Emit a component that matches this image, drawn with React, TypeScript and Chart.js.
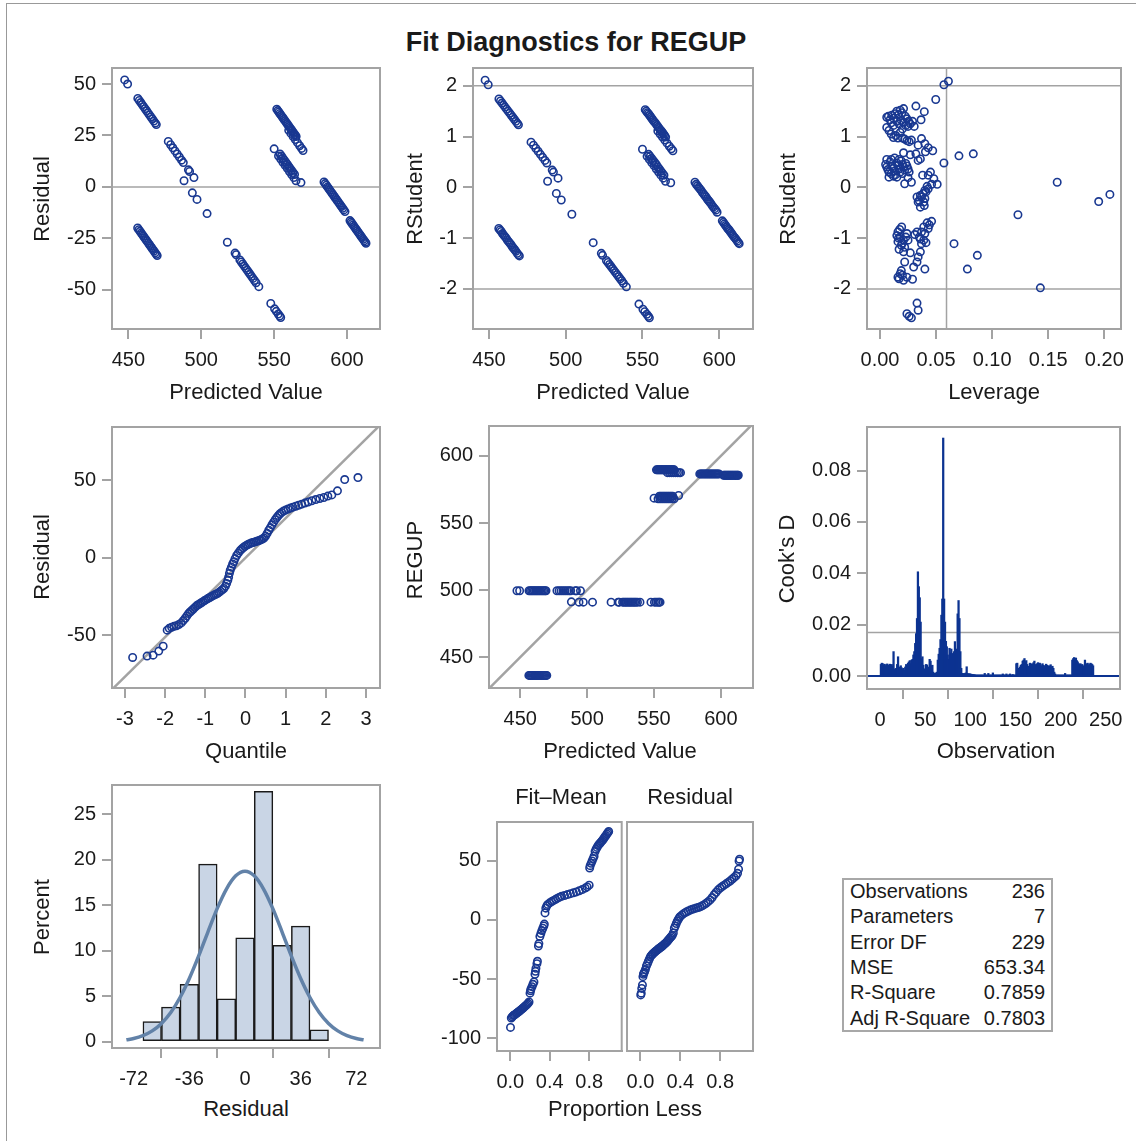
import React, { useEffect, useRef } from 'react';
import { Chart, registerables } from 'chart.js';
Chart.register(...registerables);

const FONT = '"Liberation Sans", Arial, Helvetica, sans-serif';
const MARK = '#193891';
const FRAME = '#a3a3a3';
const TXT = '#1a1a1a';

// ---- per-observation columns (panels: residual / RStudent / observed vs predicted)
const predicted = [
  447.5,449.5,456.5,457.5,458.5,459.5,460.5,461.5,462.5,463.5,464.5,465.5,466.5,467.5,468.5,469.2,477.4,479.0,480.5,482.0,483.5,485.0,486.5,487.7,491.2,492.0,495.0,
  488.2,493.9,497.1,504.0,517.9,523.2,524.0,526.5,527.5,528.5,529.5,530.5,531.5,532.5,533.5,534.5,535.5,536.5,537.6,539.5,547.7,550.3,551.5,552.8,553.8,554.5,
  456.4,457.2,458.0,458.8,459.6,460.4,461.2,462.0,462.8,463.6,464.4,465.2,466.0,466.8,467.6,468.4,469.2,469.8,
  551.8,552.5,553.2,553.9,554.6,555.3,556.0,556.7,557.4,558.1,558.8,559.5,560.2,560.9,561.6,562.3,563.0,563.7,564.4,565.1,
  560.0,561.5,563.0,564.5,566.0,567.5,568.8,569.8,
  550.0,554.0,555.0,556.0,557.0,558.0,559.0,560.0,561.0,562.0,563.0,564.0,
  553.0,554.5,556.0,557.5,559.0,560.5,562.0,563.5,565.0,568.4,
  584.2,585.0,585.8,586.6,587.4,588.2,589.0,589.8,590.6,591.4,592.2,593.0,593.8,594.6,595.4,596.2,597.0,597.8,598.6,
  602.0,602.7,603.4,604.1,604.8,605.5,606.2,606.9,607.6,608.3,609.0,609.7,610.4,611.1,611.8,612.5,613.0,
];
const residual = [
  52.0,50.0,43.0,42.0,41.0,40.0,39.0,38.0,37.0,36.0,35.0,34.0,33.0,32.0,31.0,30.3,22.1,20.5,19.0,17.5,16.0,14.5,13.0,11.8,8.3,7.5,4.5,
  3.0,-2.9,-6.1,-13.0,-26.9,-32.2,-33.0,-35.5,-36.5,-37.5,-38.5,-39.5,-40.5,-41.5,-42.5,-43.5,-44.5,-45.5,-46.6,-48.5,-56.7,-59.3,-60.5,-61.8,-62.8,-63.5,
  -20.0,-20.8,-21.6,-22.4,-23.2,-24.0,-24.8,-25.6,-26.4,-27.2,-28.0,-28.8,-29.6,-30.4,-31.2,-32.0,-32.8,-33.4,
  37.8,37.1,36.4,35.7,35.0,34.3,33.6,32.9,32.2,31.5,30.8,30.1,29.4,28.7,28.0,27.3,26.6,25.9,25.2,24.5,
  27.5,26.0,24.5,23.0,21.5,20.0,18.7,17.7,
  18.5,16.0,15.0,14.0,13.0,12.0,11.0,10.0,9.0,8.0,7.0,6.0,
  15.0,13.5,12.0,10.5,9.0,7.5,6.0,4.5,3.0,2.1,
  2.4,1.6,0.8,0.0,-0.8,-1.6,-2.4,-3.2,-4.0,-4.8,-5.6,-6.4,-7.2,-8.0,-8.8,-9.6,-10.4,-11.2,-12.0,
  -16.4,-17.1,-17.8,-18.5,-19.2,-19.9,-20.6,-21.3,-22.0,-22.7,-23.4,-24.1,-24.8,-25.5,-26.2,-26.9,-27.4,
];
const rstudent = [
  2.11,2.02,1.74,1.70,1.66,1.62,1.58,1.54,1.50,1.46,1.42,1.38,1.34,1.30,1.26,1.23,0.89,0.83,0.77,0.71,0.65,0.59,0.53,0.48,0.34,0.30,0.18,
  0.12,-0.12,-0.25,-0.53,-1.09,-1.30,-1.34,-1.44,-1.48,-1.52,-1.56,-1.60,-1.64,-1.68,-1.72,-1.76,-1.80,-1.84,-1.89,-1.96,-2.30,-2.40,-2.45,-2.50,-2.54,-2.57,
  -0.81,-0.84,-0.87,-0.91,-0.94,-0.97,-1.00,-1.04,-1.07,-1.10,-1.13,-1.17,-1.20,-1.23,-1.26,-1.30,-1.33,-1.35,
  1.53,1.50,1.47,1.45,1.42,1.39,1.36,1.33,1.30,1.28,1.25,1.22,1.19,1.16,1.13,1.11,1.08,1.05,1.02,0.99,
  1.11,1.05,0.99,0.93,0.87,0.81,0.76,0.72,
  0.75,0.65,0.61,0.57,0.53,0.49,0.45,0.40,0.36,0.32,0.28,0.24,
  0.61,0.55,0.49,0.43,0.36,0.30,0.24,0.18,0.12,0.09,
  0.10,0.06,0.03,0.00,-0.03,-0.06,-0.10,-0.13,-0.16,-0.19,-0.23,-0.26,-0.29,-0.32,-0.36,-0.39,-0.42,-0.45,-0.49,
  -0.66,-0.69,-0.72,-0.75,-0.78,-0.81,-0.83,-0.86,-0.89,-0.92,-0.95,-0.98,-1.00,-1.03,-1.06,-1.09,-1.11,
];
const regup = [
  499.5,499.5,499.5,499.5,499.5,499.5,499.5,499.5,499.5,499.5,499.5,499.5,499.5,499.5,499.5,499.5,499.5,499.5,499.5,499.5,499.5,499.5,499.5,499.5,499.5,499.5,499.5,
  491.2,491,491,491,491,491,491,491,491,491,491,491,491,491,491,491,491,491,491,491,491,491,491,491,491,491,
  436.4,436.4,436.4,436.4,436.4,436.4,436.4,436.4,436.4,436.4,436.4,436.4,436.4,436.4,436.4,436.4,436.4,436.4,
  589.6,589.6,589.6,589.6,589.6,589.6,589.6,589.6,589.6,589.6,589.6,589.6,589.6,589.6,589.6,589.6,589.6,589.6,589.6,589.6,
  587.5,587.5,587.5,587.5,587.5,587.5,587.5,587.5,
  568.5,570,570,570,570,570,570,570,570,570,570,570,
  568,568,568,568,568,568,568,568,568,570.5,
  586.6,586.6,586.6,586.6,586.6,586.6,586.6,586.6,586.6,586.6,586.6,586.6,586.6,586.6,586.6,586.6,586.6,586.6,586.6,
  585.6,585.6,585.6,585.6,585.6,585.6,585.6,585.6,585.6,585.6,585.6,585.6,585.6,585.6,585.6,585.6,585.6,
];

// ---- leverage vs RStudent
const leverageRstudent = [
  [0.057,2.02],[0.061,2.09],[0.0497,1.73],[0.032,1.60],[0.0395,1.49],[0.0366,1.33],
  [0.006,1.38],[0.0075,1.40],[0.009,1.33],[0.0105,1.42],[0.012,1.36],[0.0135,1.45],[0.015,1.50],[0.0165,1.43],[0.018,1.52],[0.0195,1.47],
  [0.021,1.55],[0.0225,1.40],[0.024,1.35],[0.0255,1.30],[0.015,1.30],[0.017,1.25],[0.019,1.32],[0.021,1.28],[0.023,1.22],[0.025,1.20],
  [0.027,1.25],[0.029,1.30],[0.006,1.18],[0.008,1.12],[0.010,1.05],[0.012,0.98],[0.014,1.02],[0.016,0.97],[0.018,1.08],[0.020,1.15],
  [0.022,0.95],[0.024,0.92],[0.026,0.90],[0.028,0.93],[0.012,1.22],[0.010,1.27],[0.020,0.97],[0.0305,1.20],
  [0.037,0.96],[0.040,0.86],[0.043,0.78],[0.047,0.72],[0.0405,0.70],[0.036,0.56],[0.034,0.53],[0.032,0.66],[0.027,0.64],[0.021,0.68],
  [0.034,0.83],[0.0704,0.62],[0.0832,0.66],[0.057,0.48],
  [0.005,0.45],[0.006,0.40],[0.007,0.35],[0.008,0.30],[0.009,0.50],[0.010,0.55],[0.011,0.42],[0.012,0.38],[0.013,0.32],[0.014,0.25],
  [0.015,0.48],[0.016,0.43],[0.017,0.36],[0.018,0.30],[0.019,0.52],[0.020,0.45],[0.021,0.40],[0.022,0.34],[0.023,0.47],[0.024,0.42],
  [0.012,0.22],[0.010,0.27],[0.008,0.20],[0.006,0.55],[0.013,0.58],[0.017,0.55],[0.025,0.36],[0.026,0.30],[0.015,0.20],[0.020,0.27],
  [0.022,0.07],[0.025,0.19],[0.028,0.10],
  [0.045,0.30],[0.043,0.24],[0.038,0.24],[0.048,0.17],[0.046,0.06],[0.051,0.06],[0.042,0.02],[0.040,-0.06],[0.0386,-0.12],[0.037,-0.19],
  [0.035,-0.26],[0.039,-0.29],[0.036,-0.39],[0.034,-0.29],[0.041,-0.09],[0.043,-0.03],[0.036,-0.16],[0.040,-0.22],[0.033,-0.19],[0.0395,-0.36],
  [0.0193,-0.78],[0.016,-0.88],[0.015,-0.95],[0.018,-0.98],[0.021,-1.04],[0.016,-1.07],[0.019,-1.14],[0.022,-1.18],[0.017,-1.22],[0.025,-1.04],
  [0.024,-0.91],[0.021,-1.27],[0.027,-1.29],[0.0175,-0.83],[0.0165,-1.00],[0.020,-1.10],[0.023,-0.98],
  [0.046,-0.67],[0.042,-0.70],[0.039,-0.78],[0.043,-0.81],[0.037,-0.88],[0.040,-0.91],[0.033,-0.88],[0.031,-0.93],[0.035,-0.98],[0.039,-1.04],
  [0.041,-1.09],[0.037,-1.11],[0.044,-0.74],[0.036,-1.02],
  [0.066,-1.11],[0.036,-1.27],[0.034,-1.37],[0.033,-1.47],[0.030,-1.57],[0.022,-1.47],[0.040,-1.61],[0.0868,-1.34],[0.0779,-1.61],[0.029,-1.81],
  [0.021,-1.83],[0.018,-1.70],[0.016,-1.77],[0.019,-1.64],[0.024,-1.77],[0.020,-1.73],[0.017,-1.80],
  [0.033,-2.28],[0.034,-2.42],[0.024,-2.49],[0.028,-2.57],[0.026,-2.54],
  [0.123,-0.54],[0.158,0.10],[0.195,-0.28],[0.205,-0.14],[0.143,-1.98],
];

// ---- Q-Q plot of residuals
const qqQuantile = [-2.81,-2.45,-2.30,-2.16,-2.05,-1.95,-1.90,-1.84,-1.78,-1.72,-1.66,-1.60,-1.55,-1.50,-1.46,-1.42,-1.38,-1.34,-1.30,-1.26,-1.22,-1.18,-1.14,-1.10,-1.06,-1.02,-0.98,-0.94,-0.90,-0.86,-0.82,-0.78,-0.74,-0.70,-0.66,-0.62,-0.58,-0.54,-0.50,-0.47,-0.44,-0.42,-0.40,-0.38,-0.35,-0.32,-0.29,-0.26,-0.22,-0.18,-0.14,-0.10,-0.06,-0.02,0.02,0.06,0.10,0.14,0.18,0.22,0.26,0.30,0.34,0.38,0.42,0.46,0.50,0.54,0.58,0.62,0.66,0.70,0.74,0.78,0.82,0.86,0.90,0.95,1.00,1.06,1.12,1.18,1.25,1.32,1.40,1.48,1.56,1.65,1.75,1.85,1.95,2.05,2.15,2.29,2.47,2.80];
const qqResidual = [-64.3,-63.4,-62.8,-60.2,-57.0,-46.7,-45.5,-44.8,-44.2,-43.8,-43.0,-42.0,-40.5,-39.0,-37.5,-36.0,-35.0,-34.0,-33.0,-32.0,-31.0,-30.3,-29.7,-29.0,-28.3,-27.6,-27.0,-26.3,-25.8,-25.2,-24.6,-24.0,-23.5,-23.0,-22.3,-21.5,-20.6,-19.8,-18.3,-16.5,-14.5,-12.5,-10.0,-8.0,-6.0,-4.0,-2.5,-0.5,1.5,3.0,4.5,5.5,6.5,7.3,8.0,8.6,9.1,9.5,9.8,10.1,10.5,10.8,11.2,11.6,12.1,12.8,14.0,15.8,17.8,19.5,21.3,23.0,24.6,26.0,27.3,28.4,29.3,30.2,30.8,31.5,32.1,32.7,33.3,33.9,34.6,35.3,36.0,36.8,37.6,38.3,38.9,39.8,40.6,43.2,50.5,51.8];

// ---- Cook's D by observation (1..236)
const cooksD = [
  0.0045,0.0050,0.0048,0.0042,0.0046,0.0040,0.0044,0.0047,0.0040,0.0043,0.0046,0.0041,0.0045,0.0038,0.0095,
  0.0025,0.0028,0.0030,0.0045,0.0075,0.0035,0.0028,0.0040,0.0032,0.0025,0.0030,0.0022,0.0035,0.0045,0.0040,
  0.0050,0.0055,0.0060,0.0048,0.0062,0.0065,0.0082,0.0095,0.0127,0.0165,0.0224,0.0406,0.0348,0.0305,0.0210,
  0.0068,0.0075,0.0042,0.0028,0.0026,0.0045,0.0043,0.0035,0.0028,0.0065,0.0058,0.0040,0.0042,0.0015,0.0010,
  0.0010,0.0012,0.0015,0.0062,0.0085,0.0108,0.0142,0.0237,0.0300,0.0927,0.0300,0.0210,0.0135,0.0114,0.0082,
  0.0065,0.0108,0.0090,0.0105,0.0075,0.0088,0.0095,0.0134,0.0088,0.0105,0.0242,0.0294,0.0224,0.0095,0.0030,
  0.0010,0.0010,0.0008,0.0010,0.0012,0.0036,0.0010,0.0008,0.0009,0.0008,0.0007,0.0006,0.0006,0.0005,0.0005,
  0.0004,0.0004,0.0003,0.0004,0.0003,0.0003,0.0004,0.0003,0.0003,0.0004,0.0010,0.0003,0.0004,0.0003,0.0010,
  0.0003,0.0004,0.0003,0.0003,0.0012,0.0004,0.0003,0.0003,0.0004,0.0003,0.0003,0.0004,0.0003,0.0003,0.0004,
  0.0008,0.0003,0.0004,0.0003,0.0008,0.0003,0.0004,0.0003,0.0008,0.0003,0.0004,0.0006,0.0003,0.0004,0.0003,
  0.0048,0.0050,0.0030,0.0025,0.0035,0.0042,0.0045,0.0058,0.0062,0.0068,0.0055,0.0060,0.0045,0.0035,0.0038,
  0.0050,0.0042,0.0048,0.0045,0.0052,0.0058,0.0045,0.0040,0.0048,0.0052,0.0046,0.0050,0.0044,0.0038,0.0048,
  0.0042,0.0040,0.0036,0.0046,0.0042,0.0038,0.0040,0.0036,0.0044,0.0035,0.0038,0.0030,0.0015,0.0008,
  0.0003,0.0003,0.0004,0.0003,0.0003,0.0004,0.0003,0.0003,0.0004,0.0003,0.0010,0.0003,0.0004,0.0003,0.0003,0.0004,0.0003,0.0003,
  0.0062,0.0068,0.0072,0.0065,0.0070,0.0060,0.0055,0.0048,0.0045,0.0048,0.0042,0.0045,0.0040,0.0038,0.0062,0.0048,0.0045,0.0050,0.0042,0.0045,0.0050,0.0048,0.0045,0.0040,
];

// ---- Residual histogram and normal curve
const histMid = [-60,-48,-36,-24,-12,0,12,24,36,48];
const histPercent = [2.2,3.8,6.3,19.5,4.7,11.4,27.5,10.6,12.7,1.3];
const normX = [-76.7,-72,-66,-60,-54,-48,-42,-36,-30,-24,-18,-12,-6,0,6,12,18,24,30,36,42,48,54,60,66,72,76.7];
const normY = [0.21,0.35,0.67,1.19,2.01,3.21,4.86,6.95,9.40,12.05,14.62,16.77,18.22,18.73,18.22,16.77,14.62,12.05,9.40,6.95,4.86,3.21,2.01,1.19,0.67,0.35,0.21];

// ---- Residual-fit spread plot
const fitMeanProp = [0.002,0.010,0.020,0.030,0.040,0.050,0.060,0.070,0.080,0.090,0.100,0.110,0.120,0.130,0.140,0.150,0.160,0.170,0.180,0.190,0.200,0.205,0.210,0.220,0.230,0.240,0.250,0.255,0.260,0.270,0.275,0.285,0.290,0.300,0.310,0.320,0.330,0.340,0.345,0.352,0.360,0.370,0.380,0.400,0.420,0.440,0.460,0.480,0.500,0.520,0.550,0.580,0.610,0.640,0.670,0.700,0.730,0.760,0.780,0.800,0.805,0.810,0.820,0.830,0.840,0.850,0.860,0.870,0.880,0.890,0.900,0.910,0.920,0.930,0.940,0.950,0.960,0.970,0.980,0.990,0.998];
const fitMeanValue = [-91,-83,-82,-81,-80.5,-80,-79.3,-78.6,-78,-77.4,-76.7,-76,-75.3,-74.6,-73.8,-73,-72.3,-71.5,-70.6,-69.5,-62,-60,-58.5,-56.5,-54.5,-52.5,-46,-43.5,-41,-37,-35,-22,-20,-14,-11.5,-9,-7,-5,-3.5,6,10,12,13.2,14.5,15.6,16.6,17.5,18.5,19.3,20,20.7,21.5,22.3,23,23.8,24.8,25.8,27,28,29.5,44,46,48,50,52,54,58,60,61.5,63,64,65,66,67,68,69.2,70.5,71.5,72.8,74,75];
const residProp = [0.003,0.008,0.013,0.020,0.025,0.030,0.035,0.040,0.050,0.060,0.070,0.080,0.090,0.100,0.110,0.120,0.130,0.140,0.150,0.160,0.170,0.180,0.190,0.200,0.210,0.220,0.230,0.240,0.250,0.260,0.270,0.280,0.290,0.300,0.310,0.320,0.330,0.340,0.350,0.360,0.370,0.380,0.390,0.400,0.420,0.440,0.460,0.480,0.500,0.520,0.540,0.560,0.580,0.600,0.620,0.640,0.660,0.680,0.700,0.720,0.740,0.760,0.780,0.800,0.820,0.840,0.860,0.880,0.900,0.920,0.940,0.960,0.975,0.985,0.990,0.995];
const residValue = [-63.5,-62,-58,-55,-48,-46,-45,-44,-42,-39,-37,-35,-33,-31,-30,-29,-28.2,-27.4,-26.7,-26,-25.3,-24.6,-24,-23.3,-22.7,-22,-21.3,-20.5,-19.8,-19,-18,-17,-16,-15,-14,-13,-11,-7,-5,-3,-1,0.5,2,3,4.5,5.8,6.8,7.6,8.4,9,9.6,10.1,10.6,11.2,12,13,14.2,15.5,17,19,21.5,23.5,25.5,27,28.3,29.5,30.6,31.8,33,34.5,36,37.5,39.5,43,50,51.5];

// ---- fit statistics
const statLabels = ['Observations','Parameters','Error DF','MSE','R-Square','Adj R-Square'];
const statValues = ['236','7','229','653.34','0.7859','0.7803'];

// ---- tick labels & reference values
const predTicks = [450,500,550,600];
const residTicks = [-50,-25,0,25,50];
const rstudTicks = [-2,-1,0,1,2];
const levTicks = [0,0.05,0.1,0.15,0.2];
const quantTicks = [-3,-2,-1,0,1,2,3];
const qqTicks = [-50,0,50];
const regupTicks = [450,500,550,600];
const obsTicks = [0,50,100,150,200,250];
const cookTicks = [0,0.02,0.04,0.06,0.08];
const histTicks = [-72,-36,0,36,72];
const pctTicks = [0,5,10,15,20,25];
const propTicks = [0,0.4,0.8];
const spreadTicks = [-100,-50,0,50];
const rstudCut = 2;
const levCut = 0.0593;
const cookCut = 0.01695;
const rootMSE = 25.56;

type Line = { axis?: 'x' | 'y'; value?: number; slope?: number; color?: string; width?: number; after?: boolean };

function refsPlugin(lines: Line[]) {
  const draw = (chart: any, after: boolean) => {
    const { ctx, chartArea: a, scales } = chart;
    ctx.save();
    ctx.beginPath();
    ctx.rect(a.left, a.top, a.right - a.left, a.bottom - a.top);
    ctx.clip();
    for (const l of lines) {
      if (!!l.after !== after) continue;
      ctx.strokeStyle = l.color || FRAME;
      ctx.lineWidth = l.width || 1.5;
      ctx.beginPath();
      if (l.slope !== undefined) {
        const xs = scales.x, ys = scales.y;
        ctx.moveTo(xs.getPixelForValue(xs.min), ys.getPixelForValue(l.slope * xs.min));
        ctx.lineTo(xs.getPixelForValue(xs.max), ys.getPixelForValue(l.slope * xs.max));
      } else if (l.axis === 'y') {
        const p = scales.y.getPixelForValue(l.value);
        ctx.moveTo(a.left, p); ctx.lineTo(a.right, p);
      } else {
        const p = scales.x.getPixelForValue(l.value);
        ctx.moveTo(p, a.top); ctx.lineTo(p, a.bottom);
      }
      ctx.stroke();
    }
    ctx.restore();
  };
  return {
    id: 'refs',
    beforeDatasetsDraw(chart: any) { draw(chart, false); },
    afterDatasetsDraw(chart: any) { draw(chart, true); },
    afterDraw(chart: any) {
      const { ctx, chartArea: a } = chart;
      ctx.save();
      ctx.strokeStyle = FRAME;
      ctx.lineWidth = 2;
      ctx.strokeRect(a.left, a.top, a.right - a.left, a.bottom - a.top);
      ctx.restore();
    },
  };
}

function axis(o: { min: number; max: number; ticks: number[]; fmt?: (v: number) => string; isX: boolean; size: number; labels?: boolean; marks?: boolean }) {
  const fmt = o.fmt || ((v: number) => String(v));
  return {
    type: 'linear',
    position: o.isX ? 'bottom' : 'left',
    min: o.min,
    max: o.max,
    afterBuildTicks: (s: any) => { s.ticks = o.ticks.map((v) => ({ value: v })); },
    afterFit: (s: any) => { if (o.isX) s.height = o.size; else s.width = o.size; },
    ticks: {
      display: o.labels !== false,
      autoSkip: false,
      maxRotation: 0,
      minRotation: 0,
      padding: o.isX ? 9 : 6,
      color: TXT,
      font: { family: FONT, size: 20 },
      callback: (v: any) => fmt(Number(v)),
    },
    grid: { display: true, drawOnChartArea: false, drawTicks: o.marks !== false, tickLength: 10, color: FRAME, lineWidth: 2 },
    border: { display: true, color: FRAME, width: 2 },
  };
}

function config(type: string, datasets: any[], x: any, y: any, lines: Line[], pad: any) {
  return {
    type,
    data: { datasets },
    options: {
      responsive: false,
      animation: false,
      devicePixelRatio: 1,
      events: [],
      layout: { padding: pad },
      plugins: { legend: { display: false }, tooltip: { enabled: false } },
      scales: { x, y },
    },
    plugins: [refsPlugin(lines)],
  } as any;
}

const scatter = (pts: { x: number; y: number }[]) => ({
  type: 'scatter',
  data: pts,
  showLine: false,
  pointStyle: 'circle',
  pointRadius: 3.7,
  pointHoverRadius: 3.7,
  pointBorderWidth: 1.6,
  pointBorderColor: MARK,
  pointBackgroundColor: 'rgba(0,0,0,0)',
});

const zip = (xs: number[], ys: number[]) => xs.map((x, i) => ({ x, y: ys[i] }));
const f2 = (v: number) => v.toFixed(2);
const f1 = (v: number) => v.toFixed(1);

type BoxProps = { L: number; T: number; R: number; B: number; yw?: number; pl?: number; pt?: number; pr?: number; xh?: number; build: (yw: number, xh: number, pad: any) => any };

function ChartBox({ L, T, R, B, yw = 62, pl = 0, pt = 24, pr = 26, xh = 48, build }: BoxProps) {
  const ref = useRef<HTMLCanvasElement>(null);
  const w = pl + yw + (R - L) + pr;
  const h = pt + (B - T) + xh;
  useEffect(() => {
    const chart = new Chart(ref.current as HTMLCanvasElement, build(yw, xh, { left: pl, top: pt, right: pr, bottom: 0 }));
    return () => chart.destroy();
  }, []);
  return (
    <canvas
      ref={ref}
      width={w}
      height={h}
      style={{ position: 'absolute', left: L - yw - pl, top: T - pt, width: w, height: h }}
    />
  );
}

function Label({ x, y, text, size = 22, rot = false, bold = false }: { x: number; y: number; text: string; size?: number; rot?: boolean; bold?: boolean }) {
  return (
    <div
      style={{
        position: 'absolute',
        left: x,
        top: y,
        transform: `translate(-50%, -50%)${rot ? ' rotate(-90deg)' : ''}`,
        font: `${bold ? 'bold ' : ''}${size}px ${FONT}`,
        color: TXT,
        whiteSpace: 'nowrap',
        lineHeight: 1,
      }}
    >
      {text}
    </div>
  );
}

export default function App() {
  return (
    <div style={{ position: 'absolute', left: 0, top: 0, width: 1136, height: 1141, overflow: 'hidden', background: '#fff' }}>
      <div style={{ position: 'absolute', left: 6, top: 3, width: 1140, height: 1150, borderLeft: '1px solid #999', borderTop: '1px solid #999' }} />
      <Label x={576} y={42} text="Fit Diagnostics for REGUP" size={27} bold />

      {/* Row 1 */}
      <ChartBox L={112} T={68} R={380} B={329}
        build={(yw, xh, pad) => config('scatter', [scatter(zip(predicted, residual))],
          axis({ min: 438.8, max: 622.6, ticks: predTicks, isX: true, size: xh }),
          axis({ min: -69.1, max: 57.8, ticks: residTicks, isX: false, size: yw }),
          [{ axis: 'y', value: 0 }], pad)} />
      <ChartBox L={473} T={68} R={753} B={329}
        build={(yw, xh, pad) => config('scatter', [scatter(zip(predicted, rstudent))],
          axis({ min: 439.6, max: 622, ticks: predTicks, isX: true, size: xh }),
          axis({ min: -2.79, max: 2.35, ticks: rstudTicks, isX: false, size: yw }),
          [{ axis: 'y', value: rstudCut }, { axis: 'y', value: -rstudCut }], pad)} />
      <ChartBox L={867} T={68} R={1121} B={329} pr={14}
        build={(yw, xh, pad) => config('scatter', [scatter(leverageRstudent.map(([x, y]) => ({ x, y })))],
          axis({ min: -0.0116, max: 0.2149, ticks: levTicks, fmt: f2, isX: true, size: xh }),
          axis({ min: -2.79, max: 2.35, ticks: rstudTicks, isX: false, size: yw }),
          [{ axis: 'y', value: rstudCut }, { axis: 'y', value: -rstudCut }, { axis: 'x', value: levCut }], pad)} />

      {/* Row 2 */}
      <ChartBox L={112} T={427} R={380} B={688}
        build={(yw, xh, pad) => config('scatter', [scatter(zip(qqQuantile, qqResidual))],
          axis({ min: -3.324, max: 3.349, ticks: quantTicks, isX: true, size: xh }),
          axis({ min: -84.0, max: 84.4, ticks: qqTicks, isX: false, size: yw }),
          [{ slope: rootMSE, width: 2.5 }], pad)} />
      <ChartBox L={489} T={426} R={753} B={688}
        build={(yw, xh, pad) => config('scatter', [scatter(zip(predicted, regup))],
          axis({ min: 426.6, max: 624, ticks: predTicks, isX: true, size: xh }),
          axis({ min: 427, max: 622.3, ticks: regupTicks, isX: false, size: yw }),
          [{ slope: 1, width: 2.5 }], pad)} />
      <ChartBox L={867} T={427} R={1120} B={689} pr={14}
        build={(yw, xh, pad) => config('bar', [{
          type: 'bar',
          data: cooksD.map((d, i) => ({ x: i + 1, y: d })),
          backgroundColor: '#0c3391',
          borderWidth: 0,
          barThickness: 1.6,
          grouped: false,
        }],
          { ...axis({ min: -14.4, max: 265.8, ticks: obsTicks, isX: true, size: xh }), offset: false },
          axis({ min: -0.00507, max: 0.097, ticks: cookTicks, fmt: f2, isX: false, size: yw }),
          [{ axis: 'y', value: cookCut }, { axis: 'y', value: 0, color: '#0c3391', width: 2, after: true }], pad)} />

      {/* Row 3 */}
      <ChartBox L={112} T={785} R={380} B={1048}
        build={(yw, xh, pad) => config('bar', [
          {
            type: 'line',
            data: zip(normX, normY),
            borderColor: '#6282a8',
            borderWidth: 3.5,
            pointRadius: 0,
            cubicInterpolationMode: 'monotone',
            fill: false,
            order: 0,
          },
          {
            type: 'bar',
            data: zip(histMid, histPercent),
            backgroundColor: '#c9d5e5',
            borderColor: '#1a1a1a',
            borderWidth: 1.5,
            borderSkipped: false,
            barPercentage: 1,
            categoryPercentage: 1,
            grouped: false,
            order: 1,
          },
        ],
          { ...axis({ min: -86.0, max: 87.3, ticks: histTicks, isX: true, size: xh }), offset: false },
          axis({ min: -0.69, max: 28.2, ticks: pctTicks, isX: false, size: yw }),
          [], pad)} />
      <ChartBox L={497} T={822} R={623} B={1051} pr={4}
        build={(yw, xh, pad) => config('scatter', [scatter(zip(fitMeanProp, fitMeanValue))],
          axis({ min: -0.135, max: 1.13, ticks: propTicks, fmt: f1, isX: true, size: xh }),
          axis({ min: -111, max: 83, ticks: spreadTicks, isX: false, size: yw }),
          [], pad)} />
      <ChartBox L={627} T={822} R={753} B={1051} yw={4} pl={10} pr={14}
        build={(yw, xh, pad) => config('scatter', [scatter(zip(residProp, residValue))],
          axis({ min: -0.135, max: 1.13, ticks: propTicks, fmt: f1, isX: true, size: xh }),
          axis({ min: -111, max: 83, ticks: spreadTicks, isX: false, size: yw, labels: false, marks: false }),
          [], pad)} />

      {/* Axis titles */}
      <Label x={246} y={392} text="Predicted Value" />
      <Label x={613} y={392} text="Predicted Value" />
      <Label x={994} y={392} text="Leverage" />
      <Label x={42} y={199} text="Residual" rot />
      <Label x={415} y={199} text="RStudent" rot />
      <Label x={788} y={199} text="RStudent" rot />
      <Label x={246} y={751} text="Quantile" />
      <Label x={620} y={751} text="Predicted Value" />
      <Label x={996} y={751} text="Observation" />
      <Label x={42} y={557} text="Residual" rot />
      <Label x={415} y={560} text="REGUP" rot />
      <Label x={787} y={559} text="Cook's D" rot />
      <Label x={246} y={1109} text="Residual" />
      <Label x={625} y={1109} text="Proportion Less" />
      <Label x={42} y={917} text="Percent" rot />
      <Label x={561} y={797} text="Fit–Mean" />
      <Label x={690} y={797} text="Residual" />

      {/* Fit statistics table */}
      <div style={{ position: 'absolute', left: 842, top: 878, width: 207, height: 150, border: '2px solid #a8a8a8', font: `20px ${FONT}`, color: TXT }}>
        {statLabels.map((l, i) => (
          <div key={l} style={{ position: 'absolute', left: 6, right: 6, top: -1 + i * 25.3, height: 25.3, lineHeight: '25.3px', whiteSpace: 'nowrap' }}>
            <span>{l}</span>
            <span style={{ position: 'absolute', right: 0 }}>{statValues[i]}</span>
          </div>
        ))}
      </div>
    </div>
  );
}
